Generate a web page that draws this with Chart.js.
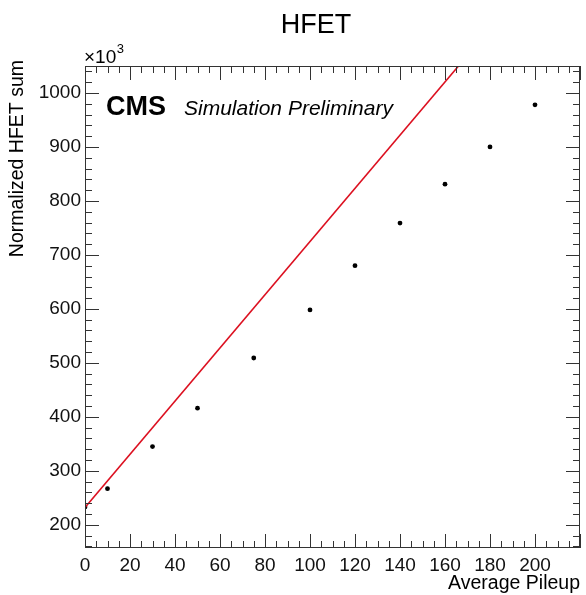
<!DOCTYPE html>
<html>
<head>
<meta charset="utf-8">
<script src="https://cdn.jsdelivr.net/npm/chart.js@4"></script>
<style>
  html, body { margin: 0; padding: 0; background: #fff; }
  #wrap { width: 586px; height: 595px; position: relative; }
</style>
</head>
<body>
<div id="wrap"><canvas id="c" width="586" height="595"></canvas></div>
<script>
// ---- data ----
const pileup   = [0, 10, 30, 50, 75, 100, 120, 140, 160, 180, 200];
const hfetSum  = [233, 267, 345, 416, 509, 598, 680, 759, 831, 900, 978];   // x10^3
const fitPileup = [0, 166];
const fitSum    = [232, 1050];
const xTickValues = [0, 20, 40, 60, 80, 100, 120, 140, 160, 180, 200];
const yTickValues = [200, 300, 400, 500, 600, 700, 800, 900, 1000];
const xRange = [0, 220];
const yRange = [157, 1050];
const xMinorStep = 5;
const yMinorStep = 20;

const FONT = '"Liberation Sans", Arial, Helvetica, sans-serif';

const rootFrame = {
  id: 'rootFrame',
  afterDatasetsDraw(chart) {
    const { ctx, chartArea: a, scales: { x, y } } = chart;
    ctx.save();
    ctx.strokeStyle = '#333';
    ctx.lineWidth = 1;
    ctx.strokeRect(a.left + 0.5, a.top + 0.5, a.right - a.left - 1, a.bottom - a.top - 1);
    ctx.beginPath();
    // x ticks (bottom and top, inside)
    for (let v = xRange[0]; v <= xRange[1] + 1e-9; v += xMinorStep) {
      const px = Math.round(x.getPixelForValue(v)) + 0.5;
      const major = (Math.round(v) % 20 === 0);
      const len = major ? 14 : 7;
      ctx.moveTo(px, a.bottom); ctx.lineTo(px, a.bottom - len);
      ctx.moveTo(px, a.top); ctx.lineTo(px, a.top + len);
    }
    // y ticks (left and right, inside)
    const yStart = Math.ceil(yRange[0] / yMinorStep) * yMinorStep;
    for (let v = yStart; v <= yRange[1] + 1e-9; v += yMinorStep) {
      const py = Math.round(y.getPixelForValue(v)) + 0.5;
      const major = (Math.round(v) % 100 === 0);
      const len = major ? 14 : 7;
      ctx.moveTo(a.left, py); ctx.lineTo(a.left + len, py);
      ctx.moveTo(a.right, py); ctx.lineTo(a.right - len, py);
    }
    ctx.stroke();

    ctx.fillStyle = '#000';
    // Title
    ctx.font = '27px ' + FONT;
    ctx.textAlign = 'center';
    ctx.textBaseline = 'alphabetic';
    ctx.fillText('HFET', 316, 33);

    // CMS label
    ctx.textAlign = 'left';
    ctx.font = 'bold 27px ' + FONT;
    ctx.fillText('CMS', 106, 115);
    ctx.font = 'italic 21px ' + FONT;
    ctx.fillText('Simulation Preliminary', 184, 115);

    // x10^3
    ctx.font = '19px ' + FONT;
    ctx.fillText('\u00d710', 84, 63);
    const w = ctx.measureText('\u00d710').width;
    ctx.font = '13px ' + FONT;
    ctx.fillText('3', 84 + w + 0.5, 53);

    // axis titles
    ctx.font = '19.5px ' + FONT;
    ctx.textAlign = 'right';
    ctx.fillText('Average Pileup', a.right, 589);
    ctx.save();
    ctx.translate(23, 60);
    ctx.rotate(-Math.PI / 2);
    ctx.textAlign = 'right';
    ctx.fillText('Normalized HFET sum', 0, 0);
    ctx.restore();
    ctx.restore();
  }
};

new Chart(document.getElementById('c'), {
  type: 'scatter',
  data: {
    datasets: [
      {
        label: 'fit',
        data: fitPileup.map((v, i) => ({ x: v, y: fitSum[i] })),
        showLine: true,
        borderColor: '#dc1020',
        borderWidth: 1.6,
        pointRadius: 0,
        fill: false,
        order: 0
      },
      {
        label: 'HFET',
        data: pileup.map((v, i) => ({ x: v, y: hfetSum[i] })),
        backgroundColor: '#000',
        borderColor: '#000',
        pointStyle: 'circle',
        pointRadius: 2.4,
        borderWidth: 0,
        order: 1
      }
    ]
  },
  options: {
    responsive: false,
    animation: false,
    layout: { padding: { top: 66, right: 6, left: 0, bottom: 0 } },
    plugins: { legend: { display: false }, title: { display: false }, tooltip: { enabled: false } },
    scales: {
      x: {
        type: 'linear',
        min: xRange[0], max: xRange[1],
        afterBuildTicks: s => { s.ticks = xTickValues.map(v => ({ value: v })); },
        afterFit: s => { s.height = 47; },
        grid: { display: false, drawTicks: false, tickLength: 0 },
        border: { display: false },
        ticks: { color: '#111', font: { family: FONT, size: 19 }, padding: 6, maxRotation: 0, autoSkip: false,
                 callback: v => String(v) }
      },
      y: {
        type: 'linear',
        min: yRange[0], max: yRange[1],
        afterBuildTicks: s => { s.ticks = yTickValues.map(v => ({ value: v })); },
        afterFit: s => { s.width = 85; },
        grid: { display: false, drawTicks: false, tickLength: 0 },
        border: { display: false },
        ticks: { color: '#111', font: { family: FONT, size: 19 }, padding: 4, autoSkip: false,
                 callback: v => String(v) }
      }
    }
  },
  plugins: [rootFrame]
});
</script>
</body>
</html>
